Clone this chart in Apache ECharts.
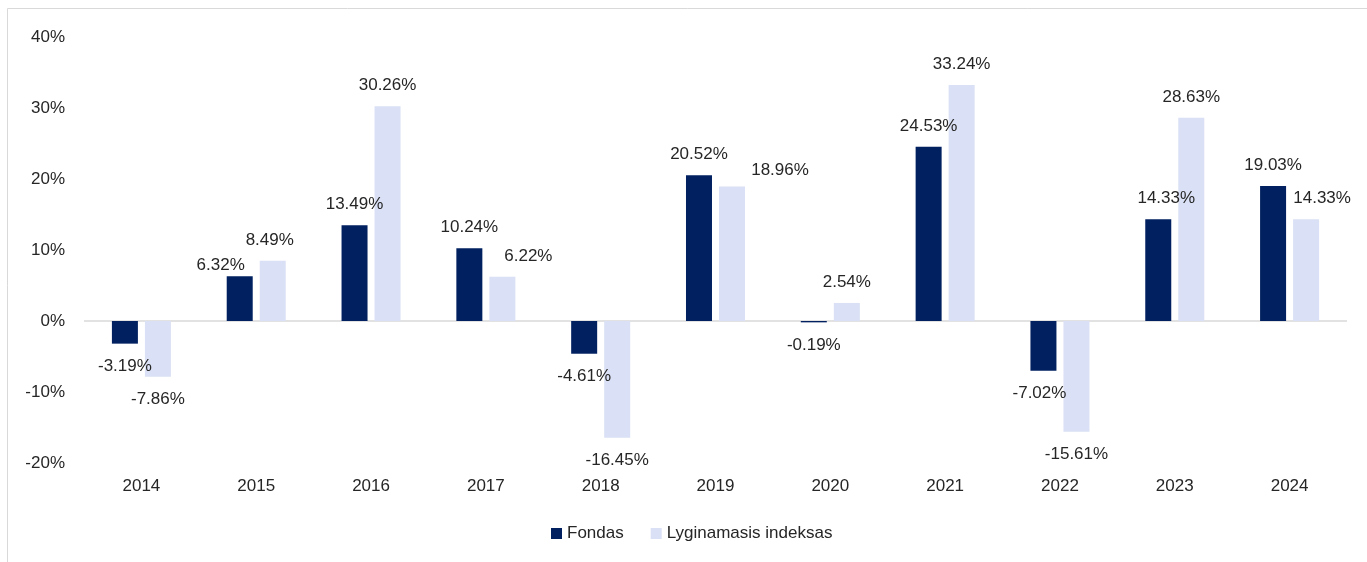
<!DOCTYPE html>
<html>
<head>
<meta charset="utf-8">
<script src="https://cdn.jsdelivr.net/npm/echarts@6/dist/echarts.min.js"></script>
<style>
  html, body { margin: 0; padding: 0; background: #fff; }
  #chart { width: 1367px; height: 562px; }
</style>
</head>
<body>
<div id="chart"></div>
<script>
const years = ['2014', '2015', '2016', '2017', '2018', '2019', '2020', '2021', '2022', '2023', '2024']
const fondas = [-3.19, 6.32, 13.49, 10.24, -4.61, 20.52, -0.19, 24.53, -7.02, 14.33, 19.03]
const indeksas = [-7.86, 8.49, 30.26, 6.22, -16.45, 18.96, 2.54, 33.24, -15.61, 28.63, 14.33]

// manual nudges of some data labels, like in the original
const fondasLabelShift = [[0, 0], [-19, 10], [0, 0], [0, 0], [0, 0], [0, 0], [0, 0], [0, 0], [-4, 0], [8, 0], [0, 0]]
const indeksasLabelShift = [[0, 0], [-3, 0], [0, 0], [26, 0], [0, 0], [48, 4], [0, 0], [0, 0], [0, 0], [0, 0], [16, 0]]

const textColor = '#262626'
const font = '"Liberation Sans", Arial, sans-serif'

const toItems = (values, shifts) => values.map((v, i) => ({
  value: v,
  label: {
    position: v < 0 ? 'bottom' : 'top',
    distance: v < 0 ? 14 : 12,
    offset: shifts[i]
  }
}))

const chart = echarts.init(document.getElementById('chart'))

const labelStyle = {
  show: true,
  color: textColor,
  fontSize: 17,
  fontFamily: font,
  formatter: (p) => p.value.toFixed(2) + '%'
}

chart.setOption({
  animation: false,
  backgroundColor: '#fff',
  graphic: [{
    type: 'rect',
    shape: { x: 7.5, y: 8.5, width: 1400, height: 600 },
    style: { fill: 'none', stroke: '#d9d9d9', lineWidth: 1 },
    silent: true
  }],
  grid: { left: 84, right: 20, top: 37, bottom: 99 },
  legend: {
    left: 546,
    top: 520,
    icon: 'rect',
    itemWidth: 11,
    itemHeight: 11,
    itemGap: 27,
    textStyle: { color: textColor, fontSize: 17, fontFamily: font },
    data: ['Fondas', 'Lyginamasis indeksas']
  },
  xAxis: {
    type: 'category',
    data: years,
    axisLine: { show: false, onZero: false },
    axisTick: { show: false },
    axisLabel: { color: textColor, fontSize: 17, fontFamily: font, margin: 15 }
  },
  yAxis: {
    type: 'value',
    min: -20,
    max: 40,
    interval: 10,
    splitLine: { show: false },
    axisLine: { show: false },
    axisTick: { show: false },
    axisLabel: {
      color: textColor,
      fontSize: 17,
      fontFamily: font,
      margin: 19,
      formatter: '{value}%'
    }
  },
  series: [
    {
      name: 'Fondas',
      type: 'bar',
      barWidth: 26,
      barGap: '27%',
      itemStyle: { color: '#002060' },
      label: labelStyle,
      data: toItems(fondas, fondasLabelShift),
      markLine: {
        silent: true,
        symbol: 'none',
        label: { show: false },
        lineStyle: { color: '#d9d9d9', width: 1.5, type: 'solid' },
        data: [{ yAxis: 0 }],
        z: 1
      }
    },
    {
      name: 'Lyginamasis indeksas',
      type: 'bar',
      barWidth: 26,
      itemStyle: { color: '#DAE0F5' },
      label: labelStyle,
      data: toItems(indeksas, indeksasLabelShift)
    }
  ]
})
</script>
</body>
</html>
